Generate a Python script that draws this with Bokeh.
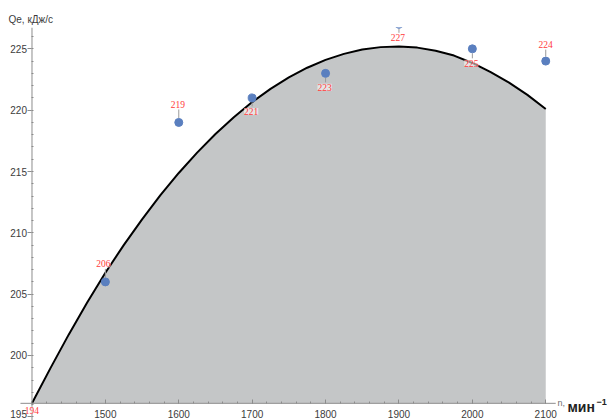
from bokeh.plotting import figure
from bokeh.models import (ColumnDataSource, LabelSet, Label, Range1d,
                          FixedTicker)
from bokeh.embed import file_html
from bokeh.resources import INLINE

# Measured points: engine speed n (min^-1) and heat flow Qe (kJ/s)
speed = [1400, 1500, 1600, 1700, 1800, 1900, 2000, 2100]
heat = [194, 206, 219, 221, 223, 227, 225, 224]

# Approximating curve, read every 25 min^-1
curve_speed = [1400, 1425, 1450, 1475, 1500, 1525, 1550, 1575, 1600,
               1625, 1650, 1675, 1700, 1725, 1750, 1775, 1800, 1825,
               1850, 1875, 1900, 1925, 1950, 1975, 2000, 2025, 2050,
               2075, 2100]
curve_heat = [196.1, 198.95, 201.7, 204.3, 206.75, 209.0, 211.1, 213.07,
              214.88, 216.54, 218.06, 219.43, 220.66, 221.74, 222.67,
              223.46, 224.1, 224.59, 224.94, 225.14, 225.2, 225.1, 224.85,
              224.45, 223.85, 223.1, 222.25, 221.25, 220.1]

x_ticks = [1500, 1600, 1700, 1800, 1900, 2000, 2100]
y_ticks = [195, 200, 205, 210, 215, 220, 225]

# Layout
W, H = 608, 420
TOP = 27
X0, X1 = 1357.1, 2185.5
Y0, Y1 = 194.7, 226.74
ORIGIN_X, ORIGIN_Y = 1400, 196.1
X_AXIS_FROM, X_AXIS_TO = 1384.3, 2113.6

# Callout placement (screen px): label above (+) or below (-) the point
label_dx = [0, -2, -1, -1, -1, -1, -1, 0]
label_dy = [19, 18, 18, -13.5, -14, -13.5, -14.5, 16.5]

AXIS_COLOR = "#8c8c8c"
TEXT_COLOR = "#3c3c3c"
FONT = "Liberation Sans"

p = figure(width=W, height=H, output_backend="svg", toolbar_location=None,
           x_range=Range1d(X0, X1), y_range=Range1d(Y0, Y1),
           min_border_left=0, min_border_right=0,
           min_border_top=TOP, min_border_bottom=0)
p.outline_line_color = None
p.grid.visible = False
p.background_fill_color = "white"
p.border_fill_color = "white"

p.title.text = "Qe, кДж/с"
p.title.align = "left"
p.title.offset = 8
p.title.standoff = 5
p.title.text_font = FONT
p.title.text_font_size = "10px"
p.title.text_font_style = "normal"
p.title.text_color = TEXT_COLOR

# Shaded area under the curve down to the horizontal axis, then the curve
p.varea(x=curve_speed, y1=[ORIGIN_Y] * len(curve_speed), y2=curve_heat,
        fill_color="#c4c6c7")
p.line(curve_speed, curve_heat, line_color="black", line_width=2)

# Axis lines
p.segment(x0=[X_AXIS_FROM, ORIGIN_X], y0=[ORIGIN_Y, Y0],
          x1=[X_AXIS_TO, ORIGIN_X], y1=[ORIGIN_Y, Y1],
          line_color=AXIS_COLOR, line_width=1)

# Callout leaders between point and its label
frame_h = H - TOP
ppu = frame_h / (Y1 - Y0)
lx, ly0, ly1 = [], [], []
for s, v, dy in zip(speed, heat, label_dy):
    if v < Y0:
        continue
    d = 1 if dy > 0 else -1
    lx.append(s)
    ly0.append(v + d * 4.5 / ppu)
    ly1.append(v + d * (abs(dy) - 5) / ppu)
p.segment(x0=lx, y0=ly0, x1=lx, y1=ly1, line_color="#9a9a9a", line_width=1)

p.scatter(speed, heat, size=8, fill_color="#5a7fbf", line_color="#5a7fbf")

src = ColumnDataSource(dict(x=speed, y=heat, t=[str(v) for v in heat],
                            dx=label_dx, dy=label_dy))
p.add_layout(LabelSet(x="x", y="y", text="t", source=src,
                      x_offset="dx", y_offset="dy",
                      text_align="center", text_baseline="middle",
                      text_font=FONT, text_font_size="9.5px",
                      text_color="#ff3b3b",
                      background_fill_color="white",
                      background_fill_alpha=0.55))

# Axes crossing at (ORIGIN_X, ORIGIN_Y); lines drawn above
xa = p.xaxis[0]
xa.fixed_location = ORIGIN_Y
xa.ticker = FixedTicker(ticks=x_ticks,
                        minor_ticks=list(range(1400, 2101, 20)))
ya = p.yaxis[0]
ya.fixed_location = ORIGIN_X
ya.ticker = FixedTicker(ticks=y_ticks, minor_ticks=list(range(195, 227)))
# the lowest label sits on the bottom edge; it is drawn separately below
ya.major_label_overrides = {y_ticks[0]: ""}
for ax in (xa, ya):
    ax.axis_line_color = None
    ax.major_tick_line_color = AXIS_COLOR
    ax.minor_tick_line_color = AXIS_COLOR
    ax.major_label_text_font = FONT
    ax.major_label_text_font_size = "10px"
    ax.major_label_text_color = TEXT_COLOR
xa.major_tick_in, xa.major_tick_out = 4, 0
xa.minor_tick_in, xa.minor_tick_out = 2, 0
xa.major_label_standoff = 7
ya.major_tick_in, ya.major_tick_out = 0, 4
ya.minor_tick_in, ya.minor_tick_out = 2, 0
ya.major_label_standoff = 1

p.add_layout(Label(x=ORIGIN_X, y=Y0, x_offset=-5, y_offset=3,
                   text=str(y_ticks[0]),
                   text_font=FONT, text_font_size="10px",
                   text_color=TEXT_COLOR, text_align="right",
                   text_baseline="bottom"))

# Horizontal axis title
p.add_layout(Label(x=557, y=H - 402, x_units="screen", y_units="screen",
                   text="n,", text_font=FONT, text_font_size="9px",
                   text_color="#707070", text_baseline="alphabetic"))
p.add_layout(Label(x=567, y=H - 406, x_units="screen", y_units="screen",
                   text="мин", text_font=FONT, text_font_size="14px",
                   text_font_style="bold", text_color="#222222",
                   text_baseline="alphabetic"))
p.add_layout(Label(x=596, y=H - 401, x_units="screen", y_units="screen",
                   text="−1", text_font=FONT, text_font_size="9px",
                   text_font_style="bold", text_color="#222222",
                   text_baseline="alphabetic"))

open("out.html", "w").write(file_html(p, INLINE))
